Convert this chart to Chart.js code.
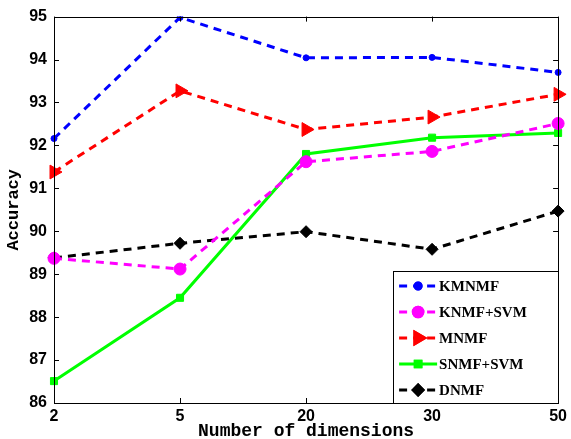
<!DOCTYPE html>
<html>
<head>
<meta charset="utf-8">
<script src="https://cdn.jsdelivr.net/npm/chart.js@4"></script>
<style>
    html, body { margin: 0; padding: 0; background: #fff; }
    #wrap { width: 571px; height: 439px; }
</style>
</head>
<body>
<div id="wrap"><canvas id="accuracyChart"></canvas></div>
<script>
const dimensions = ['2', '5', '20', '30', '50'];
const kmnmf = [92.16, 94.98, 94.04, 94.05, 93.70];
const knmfSvm = [89.37, 89.12, 91.62, 91.86, 92.51];
const mnmf = [91.38, 93.27, 92.37, 92.66, 93.19];
const snmfSvm = [86.51, 88.45, 91.80, 92.18, 92.29];
const dnmf = [89.38, 89.72, 89.99, 89.58, 90.47];
const yTicks = [86, 87, 88, 89, 90, 91, 92, 93, 94, 95];

Chart.defaults.color = '#000';
Chart.defaults.font.family = '"Liberation Sans", Arial, sans-serif';

// box round the plot with inward ticks on all four sides
const axesBox = {
    id: 'axesBox',
    afterDatasetsDraw(chart) {
        const { ctx, chartArea: a, scales: { x, y } } = chart;
        ctx.save();
        ctx.strokeStyle = '#000';
        ctx.lineWidth = 1;
        ctx.beginPath();
        yTicks.forEach(v => {
            const py = Math.round(y.getPixelForValue(v)) + 0.5;
            ctx.moveTo(a.left, py); ctx.lineTo(a.left + 5, py);
            ctx.moveTo(a.right, py); ctx.lineTo(a.right - 5, py);
        });
        dimensions.forEach((d, i) => {
            const px = Math.round(x.getPixelForValue(i)) + 0.5;
            ctx.moveTo(px, a.bottom); ctx.lineTo(px, a.bottom - 5);
            ctx.moveTo(px, a.top); ctx.lineTo(px, a.top + 5);
        });
        ctx.stroke();
        ctx.strokeRect(Math.round(a.left) + 0.5, Math.round(a.top) + 0.5,
            Math.round(a.right - a.left), Math.round(a.bottom - a.top));
        ctx.restore();
    }
};

// legend box inside the plot, bottom right
const boxLegend = {
    id: 'boxLegend',
    afterDraw(chart) {
        const { ctx, chartArea: a } = chart;
        const w = 165, h = 132;
        const left = a.right - w, top = a.bottom - h;
        ctx.save();
        ctx.fillStyle = '#fff';
        ctx.fillRect(left, top, w, h);
        ctx.strokeStyle = '#000';
        ctx.lineWidth = 1;
        ctx.strokeRect(Math.round(left) + 0.5, Math.round(top) + 0.5, w, h);
        chart.data.datasets.forEach((ds, i) => {
            const cy = top + 15 + i * 26;
            ctx.strokeStyle = ds.borderColor;
            ctx.lineWidth = 3;
            ctx.setLineDash(ds.borderDash || []);
            ctx.beginPath();
            ctx.moveTo(left + 6, cy);
            ctx.lineTo(left + 44, cy);
            ctx.stroke();
            ctx.setLineDash([]);
            Chart.helpers.drawPoint(ctx, {
                pointStyle: ds.pointStyle,
                radius: Math.max(3, ds.pointRadius * 0.8),
                rotation: ds.pointRotation || 0,
                borderWidth: 1
            }, left + 25, cy);
            ctx.fillStyle = ds.pointBackgroundColor;
            ctx.strokeStyle = ds.pointBackgroundColor;
            ctx.fill();
            ctx.stroke();
            ctx.fillStyle = '#000';
            ctx.font = 'bold 15px "Liberation Serif", serif';
            ctx.textBaseline = 'middle';
            ctx.fillText(ds.label, left + 46, cy + 1);
        });
        ctx.restore();
    }
};

function series(label, data, color, style, radius, dashed, rotation) {
    return {
        label: label,
        data: data,
        borderColor: color,
        borderWidth: 3,
        borderDash: dashed ? [8, 6] : [],
        pointStyle: style,
        pointRadius: radius,
        pointRotation: rotation || 0,
        pointBackgroundColor: color,
        pointBorderColor: color,
        pointBorderWidth: 1,
        tension: 0,
        fill: false
    };
}

const ctx = document.getElementById('accuracyChart');

new Chart(ctx, {
    type: 'line',
    data: {
        labels: dimensions,
        datasets: [
            series('KMNMF', kmnmf, '#0000ff', 'circle', 3, true),
            series('KNMF+SVM', knmfSvm, '#ff00ff', 'circle', 6, true),
            series('MNMF', mnmf, '#ff0000', 'triangle', 8, true, 90),
            series('SNMF+SVM', snmfSvm, '#00ff00', 'rect', 5, false),
            series('DNMF', dnmf, '#000000', 'rectRot', 6, true)
        ]
    },
    options: {
        responsive: true,
        maintainAspectRatio: false,
        animation: false,
        layout: { padding: { left: 0, right: 9, top: 16, bottom: 0 } },
        plugins: {
            legend: { display: false },
            tooltip: { enabled: false }
        },
        scales: {
            x: {
                offset: false,
                grid: { display: false, drawTicks: false },
                border: { display: false },
                ticks: { padding: 4, font: { size: 16, weight: 'bold' } },
                title: {
                    display: true,
                    text: 'Number of dimensions',
                    font: { family: '"Liberation Mono", monospace', size: 18, weight: 'bold' },
                    padding: { top: 0, bottom: -3 }
                },
                afterFit(scale) { scale.height = 36; }
            },
            y: {
                min: 86,
                max: 95,
                grid: { display: false, drawTicks: false },
                border: { display: false },
                ticks: {
                    stepSize: 1,
                    padding: 7,
                    font: { size: 16, weight: 'bold' }
                },
                title: {
                    display: true,
                    text: 'Accuracy',
                    font: { family: '"Liberation Mono", monospace', size: 17, weight: 'bold' },
                    padding: { top: 4, bottom: 0 }
                },
                afterFit(scale) { scale.width = 54; }
            }
        }
    },
    plugins: [axesBox, boxLegend]
});
</script>
</body>
</html>
